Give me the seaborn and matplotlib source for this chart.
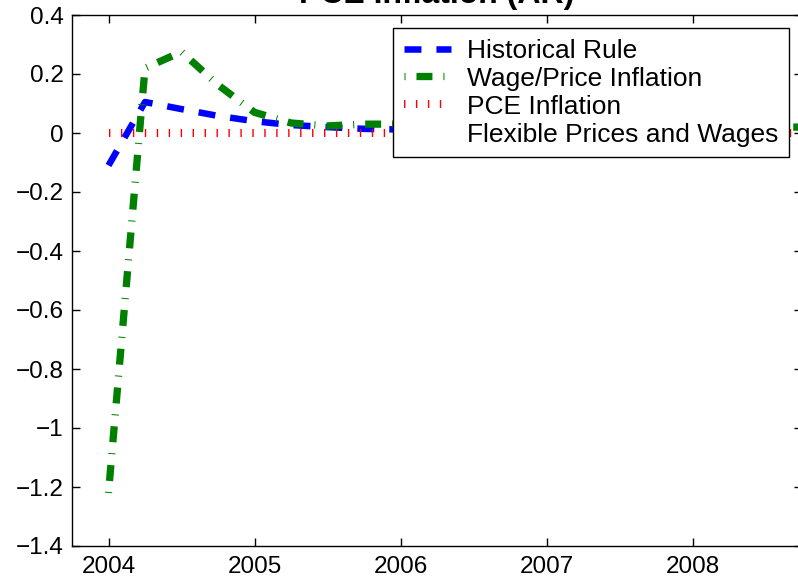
import matplotlib
matplotlib.use("Agg")
import matplotlib.pyplot as plt
from matplotlib.lines import Line2D
import seaborn as sns
import pandas as pd

# Quarterly impulse responses, 2004Q1 - 2008Q4
quarters = [2004.0, 2004.25, 2004.5, 2004.75,
            2005.0, 2005.25, 2005.5, 2005.75,
            2006.0, 2006.25, 2006.5, 2006.75,
            2007.0, 2007.25, 2007.5, 2007.75,
            2008.0, 2008.25, 2008.5, 2008.75]
historical_rule = [-0.11, 0.105, 0.081, 0.058, 0.040, 0.027, 0.020, 0.014,
                   0.012, 0.011, 0.010, 0.009, 0.008, 0.008, 0.007, 0.007,
                   0.006, 0.006, 0.005, 0.005]
wage_price_infl = [-1.22, 0.22, 0.275, 0.163, 0.070, 0.034, 0.024, 0.030,
                   0.030, 0.029, 0.028, 0.027, 0.026, 0.025, 0.024, 0.023,
                   0.022, 0.021, 0.020, 0.020]
pce_infl = [0.0] * 20

labels = ["Historical Rule", "Wage/Price Inflation", "PCE Inflation",
          "Flexible Prices and Wages"]
xtick_values = [2004, 2005, 2006, 2007, 2008]
ytick_values = [-1.4, -1.2, -1.0, -0.8, -0.6, -0.4, -0.2, 0.0, 0.2, 0.4]
ytick_labels = ["\u22121.4", "\u22121.2", "\u22121", "\u22120.8", "\u22120.6",
                "\u22120.4", "\u22120.2", "0", "0.2", "0.4"]

df = pd.DataFrame({"date": quarters, "hist": historical_rule,
                   "wage": wage_price_infl, "pce": pce_infl})

sns.set_style("ticks")
plt.rcParams["font.family"] = ["Liberation Sans", "DejaVu Sans"]
plt.rcParams["text.color"] = "black"
plt.rcParams["lines.scale_dashes"] = False

fig = plt.figure(figsize=(7.98, 5.84), dpi=100)
ax = fig.add_axes([72 / 798, 1 - 546 / 584, (802 - 72) / 798, (546 - 15) / 584])

# dash patterns in points, mimicking the MATLAB export
sns.lineplot(data=df, x="date", y="hist", ax=ax, color="#0000ff",
             linewidth=4.7, linestyle=(0, (12.2, 10.8)), label=labels[0])
sns.lineplot(data=df, x="date", y="wage", ax=ax, color="#008000",
             linewidth=5.25, linestyle=(0, (0.72, 7.9, 11.5, 7.9)),
             label=labels[1])
sns.lineplot(data=df, x="date", y="pce", ax=ax, color="#ff0000",
             linewidth=5.8, linestyle=(0, (1.0, 7.6)), label=labels[2])

ax.set_xlim(2003.75, 2008.75)
ax.set_ylim(-1.4, 0.4)
ax.set_xticks(xtick_values)
ax.set_xticklabels([str(v) for v in xtick_values])
ax.set_yticks(ytick_values)
ax.set_yticklabels(ytick_labels)
ax.set_xlabel("")
ax.set_ylabel("")
ax.tick_params(direction="in", top=True, right=True, length=5.5, width=1,
               labelsize=17.5, colors="black")
ax.tick_params(axis="y", pad=6)
ax.tick_params(axis="x", pad=7)
for sp in ax.spines.values():
    sp.set_visible(True)
    sp.set_linewidth(1)
    sp.set_color("black")

ax.set_title("PCE Inflation (AR)", fontsize=23, fontweight="bold", pad=8.5,
             color="black")

handles, _ = ax.get_legend_handles_labels()
handles.append(Line2D([], [], linestyle="none"))
leg = ax.legend(handles, labels, loc="upper right", fontsize=19,
                handlelength=1.8, handletextpad=0.6, borderpad=0.4,
                labelspacing=0.15, borderaxespad=0.5, fancybox=False,
                framealpha=1, edgecolor="black", labelcolor="black")
leg.get_frame().set_linewidth(1)

fig.savefig("out.png", dpi=100)
